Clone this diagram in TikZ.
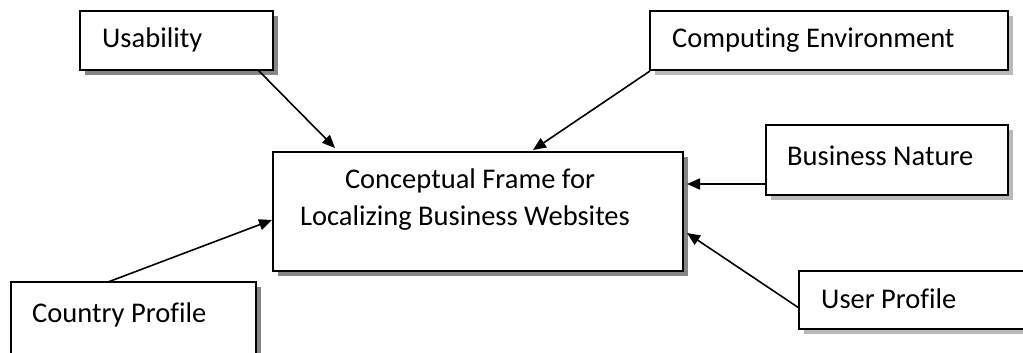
\documentclass[tikz,border=0pt]{standalone}
\usepackage{fontspec}
\setmainfont{Carlito}[Ligatures=NoCommon]
\usetikzlibrary{shadows,arrows.meta,calc}
\tikzset{
  box/.style={draw=black, line width=1.8pt, fill=white, rectangle, inner sep=0pt, outer sep=0pt, anchor=north west},
  darkshadow/.style={drop shadow={shadow xshift=5pt, shadow yshift=-5pt, fill=gray!95, opacity=1}},
  lightshadow/.style={drop shadow={shadow xshift=5pt, shadow yshift=-5pt, fill=gray!55, opacity=1}},
  lbl/.style={anchor=base west, inner sep=0pt, font=\fontsize{28.5}{38}\selectfont},
  ctr/.style={anchor=base, inner sep=0pt, font=\fontsize{28.5}{38}\selectfont},
  arr/.style={line width=1.6pt, -{Triangle[length=13pt,width=11pt]}}
}
\begin{document}
\begin{tikzpicture}[x=1pt,y=-1pt]
\useasboundingbox (0,0) rectangle (1023,353);
% boxes
\node[box, darkshadow, minimum width=193pt, minimum height=59pt] (usab) at (80,11) {};
\node[box, lightshadow, minimum width=358pt, minimum height=59pt] (comp) at (650,11) {};
\node[box, lightshadow, minimum width=242pt, minimum height=70pt] (bnat) at (766,125) {};
\node[box, darkshadow, minimum width=410pt, minimum height=119pt] (main) at (273,152) {};
\node[box, lightshadow, minimum width=260pt, minimum height=58pt] (user) at (799,271) {};
\node[box, darkshadow, minimum width=245pt, minimum height=90pt] (ctry) at (11,282) {};
% labels
\node[lbl] (usabt) at (102,48) {Usability};
\node[lbl] (compt) at (672,48) {Computing Environment};
\node[lbl] (bnatt) at (787,165) {Business Nature};
\node[lbl] (usert) at (821,308) {User Profile};
\node[lbl] (ctryt) at (32,322) {Country Profile};
\node[ctr] (main1) at (470,188) {Conceptual Frame for};
\node[ctr] (main2) at (465,225) {Localizing Business Websites};
% connectors
\draw[arr] ([xshift=178pt]usab.south west) -- ([xshift=62pt,yshift=4pt]main.north west);
\draw[arr] ([yshift=-1pt]comp.south west) -- ([xshift=260pt,yshift=2pt]main.north west);
\draw[arr] ([yshift=11pt]bnat.south west) -- ([xshift=4pt,yshift=-32pt]main.north east);
\draw[arr] ([yshift=-37pt]user.north west) -- ([xshift=4pt,yshift=-81pt]main.north east);
\draw[arr] ([xshift=97pt]ctry.north west) -- ([xshift=-1pt,yshift=-68pt]main.north west);
\end{tikzpicture}
\end{document}
